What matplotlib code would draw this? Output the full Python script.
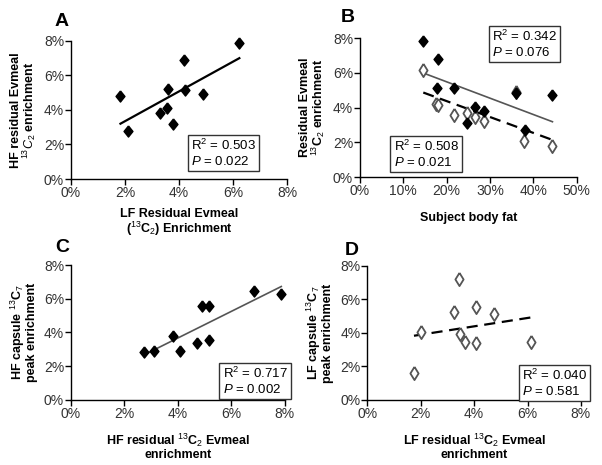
# four panel scatter figure with regression lines
import numpy as np
import matplotlib
matplotlib.use("Agg")
import matplotlib.pyplot as plt
from matplotlib.ticker import PercentFormatter

# panel A: LF residual vs HF residual Evmeal enrichment (%)
a_lf = [1.83, 2.10, 3.30, 3.54, 3.59, 3.77, 4.17, 4.21, 4.90, 6.23]
a_hf = [4.80, 2.81, 3.85, 4.10, 5.20, 3.18, 6.88, 5.13, 4.91, 7.88]

# panel B: body fat (%) vs residual enrichment, HF filled / LF open
b_fat_hf = [14.6, 18.0, 17.7, 21.7, 26.5, 28.6, 24.7, 36.1, 44.4, 38.0]
b_res_hf = [7.86, 6.81, 5.12, 5.12, 4.06, 3.83, 3.11, 4.87, 4.74, 2.72]
b_fat_lf = [14.6, 17.5, 18.0, 21.7, 24.6, 26.5, 28.6, 36.1, 37.9, 44.3]
b_res_lf = [6.18, 4.20, 4.16, 3.57, 3.72, 3.49, 3.26, 4.88, 2.09, 1.82]

# panel C: HF residual vs HF capsule peak enrichment
c_res = [2.75, 3.12, 3.83, 4.08, 4.73, 4.89, 5.17, 5.15, 6.85, 7.87]
c_cap = [2.87, 2.92, 3.81, 2.92, 3.37, 5.59, 5.59, 3.56, 6.48, 6.28]

# panel D: LF residual vs LF capsule peak enrichment
d_res = [1.75, 2.01, 3.23, 3.44, 3.47, 3.65, 4.07, 4.07, 4.75, 6.12]
d_cap = [1.63, 4.05, 5.24, 7.24, 3.95, 3.45, 5.52, 3.37, 5.16, 3.47]

stats = {"A": ("0.503", "0.022"), "B1": ("0.342", "0.076"),
         "B2": ("0.508", "0.021"), "C": ("0.717", "0.002"), "D": ("0.040", "0.581")}

lab_font = dict(weight="bold", size=9)
plt.rcParams["font.family"] = ["Liberation Sans", "DejaVu Sans"]
plt.rcParams["mathtext.fontset"] = "custom"
plt.rcParams["mathtext.rm"] = "Liberation Sans"
plt.rcParams["mathtext.it"] = "Liberation Sans:italic"
plt.rcParams["mathtext.bf"] = "Liberation Sans:bold"

fig = plt.figure(figsize=(6.02, 4.65), dpi=100)
axA = fig.add_axes([0.118, 0.615, 0.359, 0.297])
axB = fig.add_axes([0.598, 0.619, 0.360, 0.299])
axC = fig.add_axes([0.118, 0.140, 0.355, 0.290])
axD = fig.add_axes([0.610, 0.140, 0.355, 0.288])


def style(ax, xmax, xstep):
    ax.set_xlim(0, xmax)
    ax.set_ylim(0, 8)
    ax.set_xticks(np.arange(0, xmax + 0.01, xstep))
    ax.set_yticks(np.arange(0, 8.01, 2))
    ax.xaxis.set_major_formatter(PercentFormatter(decimals=0))
    ax.yaxis.set_major_formatter(PercentFormatter(decimals=0))
    for s in ["top", "right"]:
        ax.spines[s].set_visible(False)
    for s in ["left", "bottom"]:
        ax.spines[s].set_linewidth(1.0)
    ax.tick_params(direction="out", length=4, width=1, labelsize=10, colors="black",
                   labelcolor="#333333", pad=1)


def fit_line(ax, x, y, **kw):
    x = np.asarray(x)
    m, b = np.polyfit(x, y, 1)
    xs = np.array([x.min(), x.max()])
    ax.plot(xs, m * xs + b, **kw)


def stat_box(ax, x, y, key):
    r2, p = stats[key]
    ax.text(x, y, "R$^2$ = " + r2 + "\n$\\it{P}$ = " + p, transform=ax.transAxes,
            fontsize=9.5, ha="left", va="bottom", linespacing=1.15, clip_on=False,
            bbox=dict(boxstyle="square,pad=0.25", fc="white", ec="#333333", lw=1))


def labels(ax, xl, yl, xpad):
    ax.set_xlabel(xl, fontdict=lab_font, labelpad=xpad, linespacing=0.95)
    ax.set_ylabel(yl, fontdict=lab_font, labelpad=4, linespacing=0.95)


diamond = [(0, 1), (0.8, 0), (0, -1), (-0.8, 0), (0, 1)]
thin_diamond = [(0, 1), (0.62, 0), (0, -1), (-0.62, 0), (0, 1)]
filled = dict(marker=diamond, ms=8, color="black", ls="none", zorder=3, clip_on=False)
opened = dict(marker=thin_diamond, ms=9.5, mfc="white", mec="#555555", mew=1.3, ls="none",
              zorder=3, clip_on=False)

# A
style(axA, 8, 2)
axA.plot(a_lf, a_hf, **filled)
fit_line(axA, a_lf, a_hf, color="black", lw=1.6)
stat_box(axA, 0.555, 0.08, "A")
labels(axA, "LF Residual Evmeal\n($^{13}$C$_2$) Enrichment",
       "HF residual Evmeal\n$^{13}\\it{C}_2$ enrichment", 6)

# B
style(axB, 50, 10)
fit_line(axB, b_fat_hf, b_res_hf, color="#555555", lw=1.2)
fit_line(axB, b_fat_lf, b_res_lf, color="black", lw=1.6, ls=(0, (5, 3)))
axB.plot(b_fat_lf, b_res_lf, **opened)
axB.plot(b_fat_hf, b_res_hf, **filled)
stat_box(axB, 0.61, 0.85, "B1")
stat_box(axB, 0.155, 0.06, "B2")
labels(axB, "Subject body fat", "Residual Evmeal\n$^{13}$C$_2$ enrichment", 10)

# C
style(axC, 8, 2)
axC.plot(c_res, c_cap, **filled)
fit_line(axC, c_res, c_cap, color="#555555", lw=1.2)
stat_box(axC, 0.71, 0.03, "C")
labels(axC, "HF residual $^{13}$C$_2$ Evmeal\nenrichment",
       "HF capsule $^{13}$C$_7$\npeak enrichment", 8)

# D
style(axD, 8, 2)
fit_line(axD, d_res, d_cap, color="black", lw=1.6, ls=(0, (5, 3)))
axD.plot(d_res, d_cap, **opened)
stat_box(axD, 0.725, 0.015, "D")
labels(axD, "LF residual $^{13}$C$_2$ Evmeal\nenrichment",
       "LF capsule $^{13}$C$_7$\npeak enrichment", 8)

for letter, (px, py) in zip("ABCD", [(62, 21), (348, 17), (62, 247), (352, 250)]):
    fig.text(px / 602, 1 - py / 465, letter, fontsize=14, weight="bold", ha="center", va="center")

fig.savefig("out.png", dpi=100)
